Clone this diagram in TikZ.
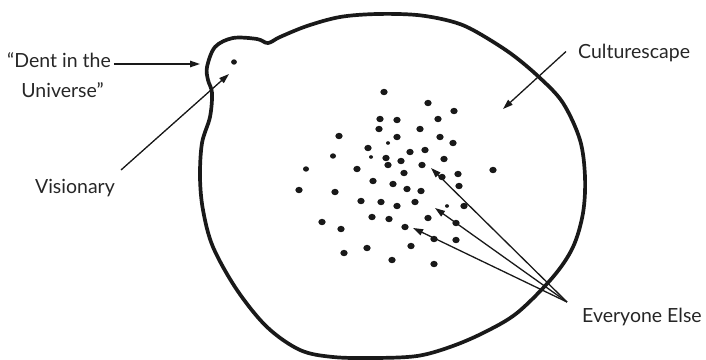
\documentclass[tikz,border=0pt]{standalone}
\usepackage{fontspec}
\setmainfont{Lato}
\usetikzlibrary{arrows.meta}
\tikzset{
  lbl/.style={inner sep=0pt, font=\fontsize{19.5}{22}\selectfont, text=black!85},
  blob/.style={line width=3.7pt, line join=round, black!90},
  pointer/.style={line width=1.3pt, black!90, -{Triangle[length=10pt,width=6.5pt]}},
  bigdot/.style={fill=black!90, draw=none},
}
\begin{document}
\begin{tikzpicture}[x=1pt,y=-1pt]
\useasboundingbox (0,0) rectangle (706,359);
% outline
\draw[blob] plot[smooth cycle, tension=0.55] coordinates {
 (207,67) (215,47) (233,38) (257,39) (268,43) (280,37) (307,26) (340,17)
 (377,14) (417,15) (450,21) (473,30) (510,53) (540,78) (563,103) (580,140)
 (585,177) (583,213) (573,247) (553,277) (517,313) (483,333) (450,347)
 (417,356) (375,358) (333,357) (300,350) (267,327) (237,290) (213,247)
 (203,210) (200,177) (202,143) (210,117) (212,93) (208,80)};
% dots
\foreach \p in {(384,92),(428,103),(454,111),(380,119),(397,120),(438,119),(379,129),(420,129),(339,136),(397,137),(440,137),(453,143),(368,148),(425,150),(410,152),(386,158),(401,161),(444,159),(388,165),(422,165),(357,169),(404,173),(442,177),(458,174),(493,170),(373,181),(393,184),(459,186),(299,190),(335,192),(407,189),(421,191),(361,201),(381,202),(397,206),(415,202),(464,206),(372,217),(389,219),(428,218),(322,222),(341,229),(405,227),(456,223),(434,239),(456,240),(411,246),(367,248),(344,253),(392,260),(434,264)}
  \fill[bigdot] \p ellipse [x radius=3.7, y radius=3.2];
\foreach \p in {(333,156),(306,169)}
  \fill[bigdot] \p ellipse [x radius=3, y radius=2.7];
\foreach \p in {(388,143),(371,157),(447,206)}
  \fill[bigdot] \p ellipse [x radius=2, y radius=1.8];
\fill[bigdot] (234,62) coordinate (visdot) ellipse [x radius=2.9, y radius=2.7];
% labels
\node[lbl, anchor=base west] (dent1) at (7,67) {“Dent in the};
\node[lbl, anchor=base] (dent2) at (62.5,97) {Universe”};
\node[lbl, anchor=base] (vis) at (75,193) {Visionary};
\node[lbl, anchor=base west] (cult) at (578,58) {Culturescape};
\node[lbl, anchor=base west] (every) at (582,322) {Everyone Else};
% tip coordinates
\coordinate (tipDent) at (200,64);
\coordinate (tipVis) at (229,74);
\coordinate (tipCult) at (503,109);
\coordinate (eFoot) at (567,302);
\coordinate (tipE1) at (431,168);
\coordinate (tipE2) at (435,208);
\coordinate (tipE3) at (413,228);
% connectors
\draw[pointer] ([xshift=3pt,yshift=3pt]dent1.base east) -- (tipDent);
\draw[pointer] ([xshift=46pt,yshift=23pt]vis.base) -- (tipVis);
\draw[pointer] ([xshift=-12pt,yshift=1pt]cult.west) -- (tipCult);
\draw[pointer] (eFoot) -- (tipE1);
\draw[pointer] (eFoot) -- (tipE2);
\draw[pointer] (eFoot) -- (tipE3);
\end{tikzpicture}
\end{document}
